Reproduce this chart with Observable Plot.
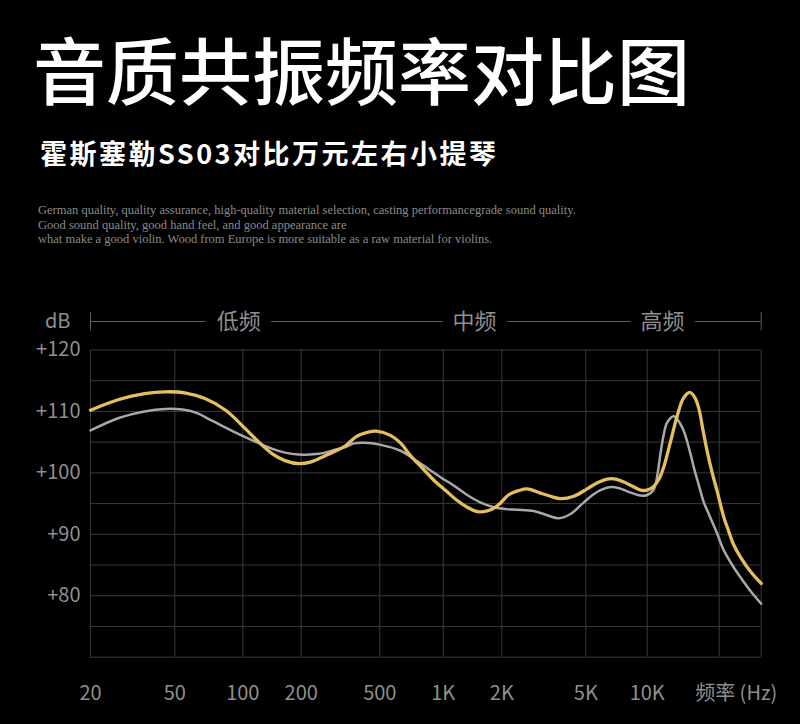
<!DOCTYPE html>
<html>
<head>
<meta charset="utf-8">
<script src="https://cdn.jsdelivr.net/npm/d3@7"></script>
<script src="https://cdn.jsdelivr.net/npm/@observablehq/plot@0.6"></script>
<style>
html, body { margin: 0; padding: 0; background: #000; }
#wrap { position: relative; width: 800px; height: 724px; overflow: hidden; background: #000; }
.title { position: absolute; left: 33px; top: 31px; font-family: "Noto Sans CJK SC", sans-serif; font-weight: 500; font-size: 73px; line-height: 1; color: #fff; white-space: nowrap; }
.subtitle { position: absolute; left: 40px; top: 139px; font-family: "Noto Sans CJK SC", sans-serif; font-weight: 700; font-size: 27px; line-height: 1; letter-spacing: 2.5px; color: #fff; white-space: nowrap; }
.blurb { position: absolute; left: 38px; top: 203px; font-family: "Liberation Serif", serif; font-size: 12.5px; line-height: 14.7px; color: #8a8a8a; white-space: nowrap; }
#header { position: absolute; left: 0; top: 301px; }
#chart { position: absolute; left: 0; top: 290px; }
</style>
</head>
<body>
<div id="wrap">
  <div class="title">音质共振频率对比图</div>
  <div class="subtitle">霍斯塞勒SS03对比万元左右小提琴</div>
  <div class="blurb">German quality, quality assurance, high-quality material selection, casting performancegrade sound quality.<br>Good sound quality, good hand feel, and good appearance are<br>what make a good violin. Wood from Europe is more suitable as a raw material for violins.</div>
  <div id="header"></div>
  <div id="chart"></div>
</div>
<script>
// ---- data ----
const xGrid = [20, 50, 100, 200, 500, 1000, 2000, 5000, 10000, 20000, 30000];
const xTicks = [20, 50, 100, 200, 500, 1000, 2000, 5000, 10000];
const xTickLabels = ["20", "50", "100", "200", "500", "1K", "2K", "5K", "10K"];
const yTicks = [80, 90, 100, 110, 120];
const yGrid = [70, 75, 80, 85, 90, 95, 100, 105, 110, 115, 120];
const bands = ["低频", "中频", "高频"];
const bandHz = [96, 1450, 11600];
const xAxisTitle = "频率 (Hz)";
const yAxisTitle = "dB";

// 霍斯塞勒SS03 (gold)
const goldHz = [20, 27, 36, 45, 56, 68, 84, 103, 121, 142, 165, 194, 225, 265, 300, 335, 380, 432, 480, 562, 630, 699, 800, 903, 1040, 1180, 1330, 1495, 1683, 1850, 1970, 2150, 2400, 2638, 3052, 3400, 3794, 4389, 5080, 5700, 6368, 7000, 7679, 8500, 9272, 10000, 10656, 11200, 11735, 12500, 13400, 14200, 15070, 15800, 16437, 17100, 17817, 18700, 19620, 20900, 21600, 23000, 24560, 27000, 30000];
const goldDb = [110.2, 111.9, 112.9, 113.2, 113.0, 112.1, 110.2, 107.2, 105.0, 103.1, 102.0, 101.5, 101.8, 102.8, 103.6, 104.4, 105.9, 106.6, 106.8, 106.1, 104.8, 102.8, 100.7, 98.8, 97.0, 95.5, 94.4, 93.7, 93.8, 94.4, 95.1, 96.4, 97.1, 97.4, 96.7, 96.2, 95.8, 96.2, 97.4, 98.4, 99.0, 99.0, 98.5, 97.8, 97.2, 97.2, 97.8, 99.0, 101.0, 105.0, 109.5, 112.2, 113.1, 112.3, 110.5, 107.0, 103.5, 100.0, 97.0, 92.8, 91.2, 88.3, 86.3, 84.0, 82.0];

// 万元左右小提琴 (grey)
const greyHz = [20, 27, 36, 45, 54, 62, 73, 90, 112, 142, 165, 194, 246, 300, 335, 369, 420, 500, 627, 753, 871, 971, 1150, 1328, 1550, 1819, 2100, 2366, 2836, 3281, 3725, 4233, 4893, 5400, 5902, 6608, 7300, 7978, 9272, 10000, 10656, 11010, 11300, 11735, 12120, 12917, 14006, 15170, 15663, 16437, 17245, 17817, 19620, 20900, 23030, 24560, 27000, 30000];
const greyDb = [106.9, 108.9, 110.0, 110.4, 110.3, 109.8, 108.5, 106.8, 105.3, 103.9, 103.3, 103.0, 103.1, 103.8, 104.2, 104.8, 104.9, 104.6, 103.6, 101.9, 100.4, 99.3, 97.8, 96.4, 95.2, 94.4, 94.1, 94.0, 93.8, 93.1, 92.6, 93.3, 95.2, 96.4, 97.2, 97.7, 97.5, 97.0, 96.3, 96.4, 97.3, 99.5, 102.5, 106.3, 108.2, 109.2, 107.4, 103.1, 100.9, 98.0, 95.2, 93.9, 90.1, 87.4, 84.6, 83.0, 80.8, 78.7];

// ---- layout (pixel positions of the hand-drawn frequency grid) ----
const xPix = [90, 174.3, 242.3, 300.7, 379.3, 442.7, 501.3, 585.3, 646.7, 718.7, 760.7];
const font = '"Noto Sans CJK SC", sans-serif';
const textGrey = "#8f8f8f";
const gridColor = "#3a3a3a";

const gold = goldHz.map((hz, i) => ({hz, db: goldDb[i]}));
const grey = greyHz.map((hz, i) => ({hz, db: greyDb[i]}));
const xScale = {type: "log", domain: xGrid, range: xPix};

// header band (dB | 低频 | 中频 | 高频)
const header = Plot.plot({
  width: 800, height: 40,
  margin: 0,
  style: {background: "transparent", color: textGrey, fontFamily: font, fontSize: "20px"},
  x: {...xScale, axis: null},
  y: {domain: [0, 1], range: [40, 0], axis: null},
  marks: [
    Plot.ruleY([0.5], {x1: xGrid[0], x2: xGrid[xGrid.length - 1], stroke: "#5e5e5e", strokeWidth: 1}),
    Plot.ruleX([xGrid[0], xGrid[xGrid.length - 1]], {y1: 0.27, y2: 0.73, stroke: "#5e5e5e", strokeWidth: 1}),
    Plot.text(bands, {x: bandHz, y: 0.5, text: d => d, fill: textGrey, fontSize: 22, stroke: "#000", strokeWidth: 24, strokeLinejoin: "round", fontFamily: font}),
    Plot.text([yAxisTitle], {x: xGrid[0], y: 0.5, dx: -20, textAnchor: "end", fill: textGrey, fontSize: 20, fontFamily: font})
  ]
});
document.getElementById("header").appendChild(header);

const chart = Plot.plot({
  width: 800, height: 434,
  marginTop: 59.5, marginBottom: 67.3, marginLeft: 90, marginRight: 39.3,
  style: {background: "transparent", color: textGrey, fontFamily: font, fontSize: "20px"},
  x: {...xScale, axis: null},
  y: {domain: [70, 120], axis: null},
  marks: [
    Plot.gridY(yGrid, {stroke: gridColor, strokeOpacity: 1, strokeWidth: 1}),
    Plot.gridX(xGrid, {stroke: gridColor, strokeOpacity: 1, strokeWidth: 1}),
    Plot.text(xTicks, {x: d => d, text: (d, i) => xTickLabels[i], frameAnchor: "bottom", dy: 29, lineAnchor: "top", fill: textGrey, fontSize: 20, fontFamily: font}),
    Plot.text(yTicks, {y: d => d, text: d => "+" + d, frameAnchor: "left", dx: -10, textAnchor: "end", fill: textGrey, fontSize: 20, fontFamily: font}),
    Plot.line(grey, {x: "hz", y: "db", stroke: "#a8a8a8", strokeWidth: 2.5, curve: "catmull-rom"}),
    Plot.line(gold, {x: "hz", y: "db", stroke: "#e5bf5c", strokeWidth: 3.3, curve: "catmull-rom"}),
    Plot.text([xAxisTitle], {x: xGrid[xGrid.length - 1], frameAnchor: "bottom", dy: 29, dx: 16, lineAnchor: "top", textAnchor: "end", fill: textGrey, fontSize: 20, fontFamily: font})
  ]
});
document.getElementById("chart").appendChild(chart);
</script>
</body>
</html>
